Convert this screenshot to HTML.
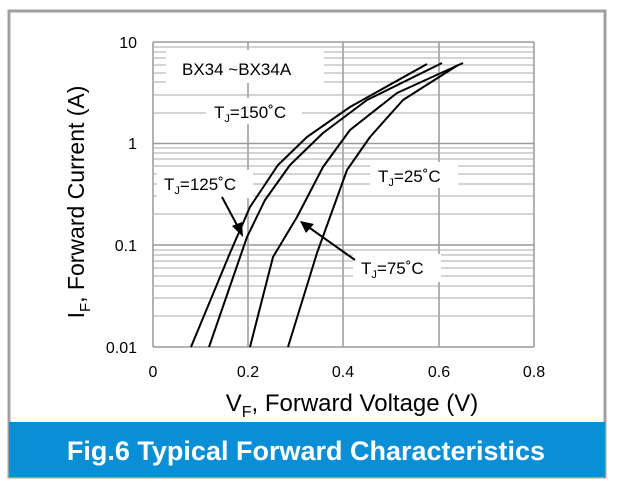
<!DOCTYPE html>
<html><head><meta charset="utf-8"><style>
body{margin:0;background:#fff;width:629px;height:480px;overflow:hidden;font-family:"Liberation Sans",Arial,sans-serif}
</style></head><body>
<svg width="629" height="480" xmlns="http://www.w3.org/2000/svg" font-family="Liberation Sans, Arial, sans-serif">
<rect x="9" y="11" width="596" height="466" fill="#fff" stroke="#a0a0a0" stroke-width="3"/>
<rect x="9" y="422" width="596" height="55" fill="#0a8ed6"/>
<text x="306" y="460" text-anchor="middle" font-size="27" font-weight="bold" fill="#fff">Fig.6 Typical Forward Characteristics</text>
<g stroke="#999" stroke-width="1.5" fill="none">
<line x1="153" y1="42" x2="534" y2="42"/>
<line x1="153" y1="143.5" x2="534" y2="143.5"/>
<line x1="153" y1="245" x2="534" y2="245"/>
<line x1="153" y1="347" x2="534" y2="347"/>
<line x1="153" y1="42" x2="153" y2="347"/>
<line x1="248" y1="42" x2="248" y2="347"/>
<line x1="343" y1="42" x2="343" y2="347"/>
<line x1="439" y1="42" x2="439" y2="347"/>
<line x1="534" y1="42" x2="534" y2="347"/>
</g>
<g stroke="#aaa" stroke-width="1">
<line x1="153" y1="316" x2="534" y2="316"/><line x1="153" y1="298" x2="534" y2="298"/><line x1="153" y1="286" x2="534" y2="286"/><line x1="153" y1="276" x2="534" y2="276"/><line x1="153" y1="268" x2="534" y2="268"/><line x1="153" y1="261" x2="534" y2="261"/><line x1="153" y1="255" x2="534" y2="255"/><line x1="153" y1="250" x2="534" y2="250"/>
<line x1="153" y1="214" x2="534" y2="214"/><line x1="153" y1="196" x2="534" y2="196"/><line x1="153" y1="184" x2="534" y2="184"/><line x1="153" y1="174" x2="534" y2="174"/><line x1="153" y1="166" x2="534" y2="166"/><line x1="153" y1="159" x2="534" y2="159"/><line x1="153" y1="153" x2="534" y2="153"/><line x1="153" y1="148" x2="534" y2="148"/>
<line x1="153" y1="113" x2="534" y2="113"/><line x1="153" y1="95" x2="534" y2="95"/><line x1="153" y1="82" x2="534" y2="82"/><line x1="153" y1="73" x2="534" y2="73"/><line x1="153" y1="65" x2="534" y2="65"/><line x1="153" y1="58" x2="534" y2="58"/><line x1="153" y1="52" x2="534" y2="52"/><line x1="153" y1="47" x2="534" y2="47"/>
</g>
<g fill="#fff">
<rect x="166" y="50" width="158" height="33"/>
<rect x="206" y="98" width="96" height="26"/>
<rect x="157" y="170" width="96" height="28"/>
<rect x="370" y="162" width="88" height="26"/>
<rect x="353" y="254" width="88" height="28"/>
</g>
<g fill="none" stroke="#000" stroke-width="2" stroke-linejoin="round">
<polyline points="191,347 230,253 250,207 278,165 307,137 350,107 427,64"/>
<polyline points="209,347 247,237 265,200 290,165 323,133 367,100 442,63"/>
<polyline points="250,347 273,257 297,217 323,167 350,130 397,93 463,63"/>
<polyline points="288,347 317,253 347,170 370,137 403,100 458,65"/>
<line x1="222" y1="197" x2="238" y2="227"/>
<line x1="355" y1="260" x2="307" y2="226"/>
</g>
<polygon points="243,237 232,226 242,222" fill="#000"/>
<polygon points="300,221 314,224 306,233" fill="#000"/>
<g font-size="17" fill="#000">
<text x="182" y="75">BX34 ~BX34A</text>
<text x="214" y="118">T<tspan font-size="11" dy="4">J</tspan><tspan dy="-4">=150˚C</tspan></text>
<text x="164" y="190">T<tspan font-size="11" dy="4">J</tspan><tspan dy="-4">=125˚C</tspan></text>
<text x="378" y="182">T<tspan font-size="11" dy="4">J</tspan><tspan dy="-4">=25˚C</tspan></text>
<text x="361" y="274">T<tspan font-size="11" dy="4">J</tspan><tspan dy="-4">=75˚C</tspan></text>
</g>
<g font-size="16" fill="#000" text-anchor="end">
<text x="137" y="48">10</text>
<text x="137" y="149">1</text>
<text x="137" y="251">0.1</text>
<text x="137" y="353">0.01</text>
</g>
<g font-size="16" fill="#000" text-anchor="middle">
<text x="153" y="377">0</text>
<text x="248" y="377">0.2</text>
<text x="343" y="377">0.4</text>
<text x="439" y="377">0.6</text>
<text x="534" y="377">0.8</text>
</g>
<text x="352" y="411" text-anchor="middle" font-size="24" fill="#000">V<tspan font-size="16" dy="6">F</tspan><tspan dy="-6">, Forward Voltage (V)</tspan></text>
<text transform="translate(84,202) rotate(-90)" text-anchor="middle" font-size="23" fill="#000">I<tspan font-size="15" dy="6">F</tspan><tspan dy="-6">, Forward Current (A)</tspan></text>
</svg>
</body></html>
